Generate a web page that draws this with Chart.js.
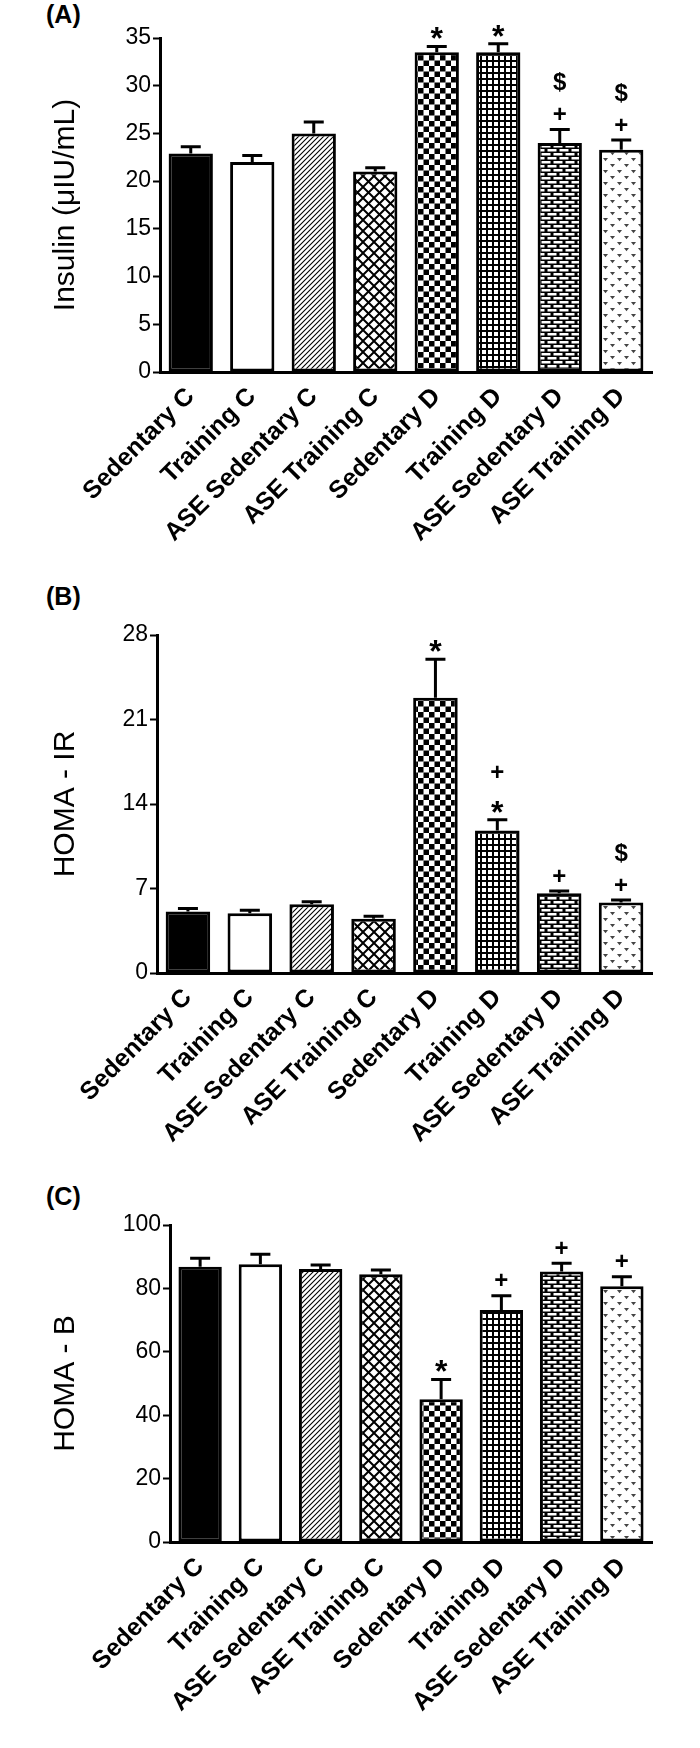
<!DOCTYPE html>
<html>
<head>
<meta charset="utf-8">
<script src="https://cdn.jsdelivr.net/npm/chart.js@4.4.1/dist/chart.umd.min.js"></script>
<style>
  body { margin: 0; background: #fff; }
  #page { position: relative; width: 700px; height: 1748px; }
  .panel { position: absolute; left: 0; width: 700px; }
  .tag { position: absolute; left: 46px; font: bold 25px "Liberation Sans", Arial, sans-serif; color: #000; }
</style>
</head>
<body>
<div id="page">
  <div class="tag" style="top:0px">(A)</div>
  <div class="panel" style="top:0"><canvas id="chartA" width="700" height="580"></canvas></div>
  <div class="tag" style="top:582px">(B)</div>
  <div class="panel" style="top:580px"><canvas id="chartB" width="700" height="600"></canvas></div>
  <div class="tag" style="top:1182px">(C)</div>
  <div class="panel" style="top:1180px"><canvas id="chartC" width="700" height="568"></canvas></div>
</div>
<script>
const categories = ['Sedentary C', 'Training C', 'ASE Sedentary C', 'ASE Training C',
  'Sedentary D', 'Training D', 'ASE Sedentary D', 'ASE Training D'];

const insulin = [22.9, 22.0, 25.0, 21.0, 33.5, 33.5, 24.0, 23.3];
const insulinErr = [0.7, 0.7, 1.2, 0.4, 0.6, 0.9, 1.4, 1.0];
const insulinMarks = [[], [], [], [], ['*'], ['*'], ['+', '$'], ['+', '$']];

const homaIR = [5.1, 4.95, 5.7, 4.5, 22.8, 11.8, 6.6, 5.85];
const homaIRErr = [0.25, 0.25, 0.2, 0.2, 3.2, 0.9, 0.2, 0.2];
const homaIRMarks = [[], [], [], [], ['*'], ['*', '+'], ['+'], ['+', '$']];

const homaB = [86.8, 87.6, 86.1, 84.5, 45.0, 73.2, 85.3, 80.7];
const homaBErr = [2.7, 3.2, 1.3, 1.3, 6.3, 4.5, 2.6, 3.0];
const homaBMarks = [[], [], [], [], ['*'], ['+'], ['+'], ['+']];

const FONT = '"Liberation Sans", Arial, sans-serif';
const fills = ['solid', 'white', 'diag', 'cross', 'checker', 'grid', 'brick', 'tri'];

function tile(w, h, draw) {
  const c = document.createElement('canvas');
  c.width = w; c.height = h;
  const g = c.getContext('2d');
  g.fillStyle = '#fff';
  g.fillRect(0, 0, w, h);
  draw(g);
  return g.createPattern(c, 'repeat');
}

function makeFill(kind) {
  switch (kind) {
    case 'solid': return '#000';
    case 'white': return '#fff';
    case 'diag':
      return tile(5, 5, g => {
        g.strokeStyle = '#000'; g.lineWidth = 1.1;
        g.beginPath();
        g.moveTo(-1, 6); g.lineTo(6, -1);
        g.moveTo(-1, 1); g.lineTo(1, -1);
        g.moveTo(4, 6); g.lineTo(6, 4);
        g.stroke();
      });
    case 'cross':
      return tile(11, 11, g => {
        g.strokeStyle = '#000'; g.lineWidth = 2;
        g.beginPath();
        g.moveTo(0, 0); g.lineTo(11, 11);
        g.moveTo(11, 0); g.lineTo(0, 11);
        g.stroke();
      });
    case 'checker':
      return tile(11, 11, g => {
        g.fillStyle = '#000';
        g.fillRect(0, 0, 5.5, 5.5);
        g.fillRect(5.5, 5.5, 5.5, 5.5);
      });
    case 'grid':
      return tile(6, 6, g => {
        g.fillStyle = '#000';
        g.fillRect(0, 0, 6, 2);
        g.fillRect(0, 0, 2, 6);
      });
    case 'brick':
      return tile(12, 8, g => {
        g.fillStyle = '#000';
        g.fillRect(0, 0, 12, 8);
        g.fillStyle = '#fff';
        g.fillRect(1.5, 1, 9, 2.5);
        g.fillRect(-4.5, 5, 9, 2.5);
        g.fillRect(7.5, 5, 9, 2.5);
      });
    case 'tri':
      return tile(14, 12, g => {
        g.fillStyle = '#444';
        [[3.5, 2], [10.5, 8]].forEach(([x, y]) => {
          g.beginPath();
          g.moveTo(x - 2.5, y); g.lineTo(x + 2.5, y); g.lineTo(x, y + 3.2);
          g.closePath(); g.fill();
        });
      });
  }
}

const errorBars = {
  id: 'errorBars',
  afterDatasetsDraw(chart, args, opts) {
    const ctx = chart.ctx;
    const y = chart.scales.y;
    const meta = chart.getDatasetMeta(0);
    ctx.save();
    ctx.strokeStyle = '#000';
    ctx.fillStyle = '#000';
    meta.data.forEach((bar, i) => {
      const v = opts.values[i];
      const top = y.getPixelForValue(v + opts.errors[i]);
      ctx.lineWidth = 3;
      ctx.beginPath();
      ctx.moveTo(bar.x, bar.y);
      ctx.lineTo(bar.x, top);
      ctx.moveTo(bar.x - 10, top);
      ctx.lineTo(bar.x + 10, top);
      ctx.stroke();
      // significance symbols stacked above the cap
      ctx.textAlign = 'center';
      ctx.textBaseline = 'middle';
      let my = top - 14;
      opts.marks[i].forEach(m => {
        if (m === '*') {
          ctx.font = 'bold 32px ' + FONT;
          ctx.fillText(m, bar.x, my + 8);
        } else {
          ctx.font = 'bold 24px ' + FONT;
          ctx.fillText(m, bar.x, my);
        }
        my -= 32;
      });
    });
    ctx.restore();
  }
};

function buildChart(id, cfg) {
  const canvas = document.getElementById(id);
  const ctx = canvas.getContext('2d');
  new Chart(ctx, {
    type: 'bar',
    data: {
      labels: categories,
      datasets: [{
        data: cfg.values,
        backgroundColor: fills.map(makeFill),
        borderColor: '#000',
        borderWidth: 3,
        borderSkipped: false,
        barPercentage: 0.72,
        categoryPercentage: 1
      }]
    },
    options: {
      responsive: false,
      animation: false,
      devicePixelRatio: 1,
      layout: { padding: { left: 48, top: cfg.top, right: 48, bottom: 0 } },
      plugins: {
        legend: { display: false },
        tooltip: { enabled: false },
        errorBars: { values: cfg.values, errors: cfg.errors, marks: cfg.marks }
      },
      scales: {
        x: {
          afterFit: s => { s.height = cfg.xHeight; },
          grid: { display: false, drawTicks: false },
          border: { color: '#000', width: 3 },
          ticks: {
            color: '#000',
            autoSkip: false,
            maxRotation: 45,
            minRotation: 45,
            padding: 10,
            font: { family: FONT, size: 25, weight: 'bold' }
          }
        },
        y: {
          min: 0,
          max: cfg.max,
          afterFit: s => { s.width = cfg.yWidth; },
          title: {
            display: true,
            text: cfg.title,
            color: '#000',
            padding: 0,
            font: { family: FONT, size: 30 }
          },
          grid: { drawOnChartArea: false, drawTicks: true, tickLength: 7, tickWidth: 2, tickColor: '#000' },
          border: { color: '#000', width: 3 },
          ticks: {
            color: '#000',
            stepSize: cfg.step,
            padding: 2,
            font: { family: FONT, size: 23 }
          }
        }
      }
    },
    plugins: [errorBars]
  });
}

buildChart('chartA', {
  values: insulin, errors: insulinErr, marks: insulinMarks,
  title: 'Insulin (\u03bcIU/mL)', max: 35, step: 5,
  top: 38, xHeight: 580 - 372, yWidth: 112
});
buildChart('chartB', {
  values: homaIR, errors: homaIRErr, marks: homaIRMarks,
  title: 'HOMA - IR', max: 28, step: 7,
  top: 55, xHeight: 600 - 393, yWidth: 109
});
buildChart('chartC', {
  values: homaB, errors: homaBErr, marks: homaBMarks,
  title: 'HOMA - B', max: 100, step: 20,
  top: 45, xHeight: 568 - 362, yWidth: 122
});
</script>
</body>
</html>
